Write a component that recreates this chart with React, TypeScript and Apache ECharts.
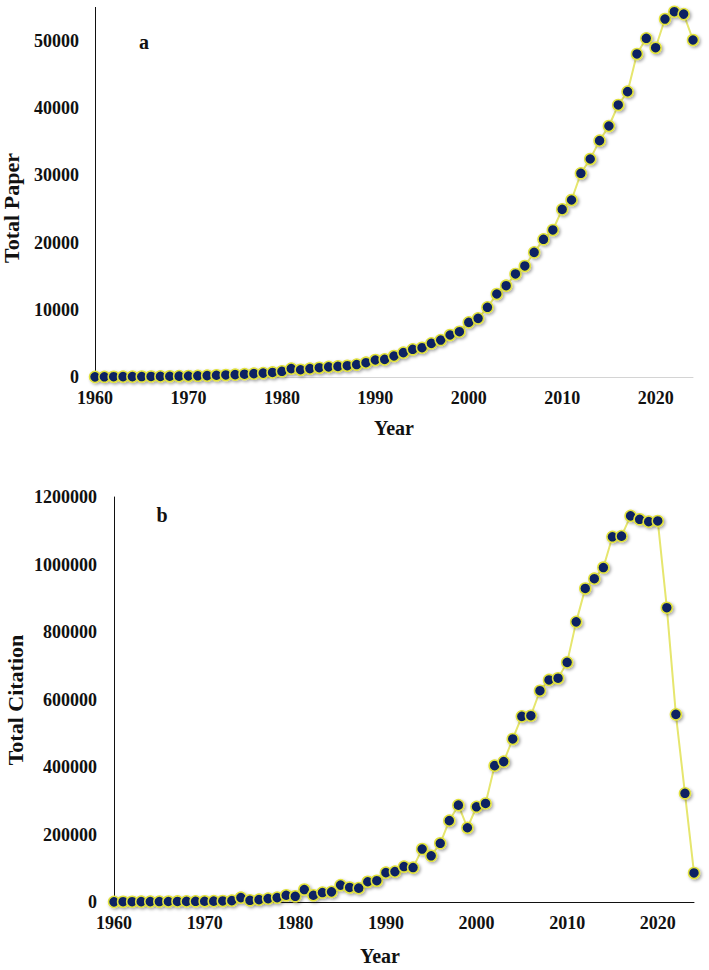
import React, { useEffect, useRef } from "react";
import * as echarts from "echarts";

const years = [
  1960, 1961, 1962, 1963, 1964, 1965, 1966, 1967, 1968, 1969,
  1970, 1971, 1972, 1973, 1974, 1975, 1976, 1977, 1978, 1979,
  1980, 1981, 1982, 1983, 1984, 1985, 1986, 1987, 1988, 1989,
  1990, 1991, 1992, 1993, 1994, 1995, 1996, 1997, 1998, 1999,
  2000, 2001, 2002, 2003, 2004, 2005, 2006, 2007, 2008, 2009,
  2010, 2011, 2012, 2013, 2014, 2015, 2016, 2017, 2018, 2019,
  2020, 2021, 2022, 2023, 2024,
];

const totalPaper = [
  20, 30, 40, 50, 60, 70, 80, 90, 110, 130,
  150, 180, 210, 260, 300, 350, 420, 500, 580, 680,
  850, 1250, 1080, 1250, 1380, 1500, 1580, 1680, 1850, 2130,
  2530, 2630, 3125, 3620, 4120, 4360, 5010, 5500, 6250, 6740,
  8130, 8730, 10370, 12350, 13590, 15330, 16520, 18550, 20490, 21880,
  24950, 26340, 30310, 32440, 35170, 37350, 40480, 42460, 48070, 50400,
  49000, 53270, 54360, 54000, 50150,
];

const totalCitation = [
  500, 800, 900, 1000, 1200, 1300, 1500, 1700, 1800, 2000,
  2200, 2500, 3000, 4000, 13000, 5000, 7000, 10000, 13000, 20000,
  17000, 37000, 20000, 28000, 30000, 50000, 43000, 41000, 60000, 63000,
  87000, 90000, 105000, 102000, 157000, 137000, 174000, 241000, 287000, 220000,
  282000, 292000, 404000, 416000, 483000, 550000, 552000, 626000, 658000, 663000,
  710000, 830000, 929000, 958000, 991000, 1082000, 1084000, 1144000, 1134000, 1127000,
  1129000, 872000, 556000, 322000, 86000,
];

const paperTicks = { min: 0, max: 55000, interval: 10000 };
const citationTicks = { min: 0, max: 1200000, interval: 200000 };
const yearTicks = { min: 1960, max: 2024, interval: 10 };

const FONT = '"Liberation Serif", "Times New Roman", serif';
const MARKER_FILL = "#0b2463";
const MARKER_BORDER = "#e2e23c";
const LINE_COLOR = "#e6e66e";

export default function App() {
  const ref = useRef<HTMLDivElement>(null);

  useEffect(() => {
    if (!ref.current) return;
    const chart = echarts.init(ref.current, undefined, { renderer: "svg" });

    const plain = (v: number) => String(v);

    const labelStyle = {
      fontFamily: FONT,
      fontWeight: "bold" as const,
      fontSize: 18,
      color: "#111",
      formatter: plain,
    };

    const xAxisBase = (gridIndex: number, lineColor: string) => ({
      type: "value" as const,
      gridIndex,
      min: yearTicks.min,
      max: yearTicks.max,
      interval: yearTicks.interval,
      splitLine: { show: false },
      axisTick: { show: false },
      axisLine: { show: true, onZero: false, lineStyle: { color: lineColor, width: 1 } },
      axisLabel: { ...labelStyle, margin: 12, showMaxLabel: false },
    });

    const seriesStyle = {
      type: "line" as const,
      symbol: "circle",
      symbolSize: 11,
      lineStyle: { color: LINE_COLOR, width: 2 },
      itemStyle: {
        color: MARKER_FILL,
        borderColor: MARKER_BORDER,
        borderWidth: 1.5,
        shadowColor: "rgba(0,0,0,0.35)",
        shadowBlur: 3,
        shadowOffsetX: 1.5,
        shadowOffsetY: 1.5,
      },
      emphasis: { disabled: true },
    };

    const titleText = (text: string, x: number, y: number, rotate: boolean, size: number) => ({
      type: "text" as const,
      x,
      y,
      rotation: rotate ? Math.PI / 2 : 0,
      style: {
        text,
        fontFamily: FONT,
        fontWeight: "bold",
        fontSize: size,
        fill: "#111",
        align: "center",
        verticalAlign: "middle",
      },
    });

    chart.setOption({
      animation: false,
      grid: [
        { left: 95, right: 16, top: 7.4, bottom: 593 },
        { left: 114, right: 15, top: 497, bottom: 68 },
      ],
      xAxis: [xAxisBase(0, "#d4d4d4"), xAxisBase(1, "#111")],
      yAxis: [
        {
          type: "value",
          gridIndex: 0,
          min: paperTicks.min,
          max: paperTicks.max,
          interval: paperTicks.interval,
          splitLine: { show: false },
          axisTick: { show: false },
          axisLine: { show: true, lineStyle: { color: "#111", width: 1 } },
          axisLabel: { ...labelStyle, margin: 16, showMaxLabel: false },
        },
        {
          type: "value",
          gridIndex: 1,
          min: citationTicks.min,
          max: citationTicks.max,
          interval: citationTicks.interval,
          splitLine: { show: false },
          axisTick: { show: false },
          axisLine: { show: true, lineStyle: { color: "#111", width: 1 } },
          axisLabel: { ...labelStyle, margin: 17 },
        },
      ],
      series: [
        {
          ...seriesStyle,
          name: "Total Paper",
          xAxisIndex: 0,
          yAxisIndex: 0,
          data: years.map((y, i) => [y, totalPaper[i]]),
        },
        {
          ...seriesStyle,
          name: "Total Citation",
          xAxisIndex: 1,
          yAxisIndex: 1,
          data: years.map((y, i) => [y, totalCitation[i]]),
        },
      ],
      graphic: [
        titleText("Total Paper", 11, 208, true, 22),
        titleText("Year", 394, 428, false, 20),
        titleText("a", 144, 42, false, 20),
        titleText("Total Citation", 15, 700, true, 22),
        titleText("Year", 380, 956, false, 20),
        titleText("b", 162, 515, false, 20),
      ],
    });

    return () => chart.dispose();
  }, []);

  return (
    <div
      ref={ref}
      style={{ position: "absolute", left: 0, top: 0, width: 709, height: 970, background: "#fff" }}
    />
  );
}
